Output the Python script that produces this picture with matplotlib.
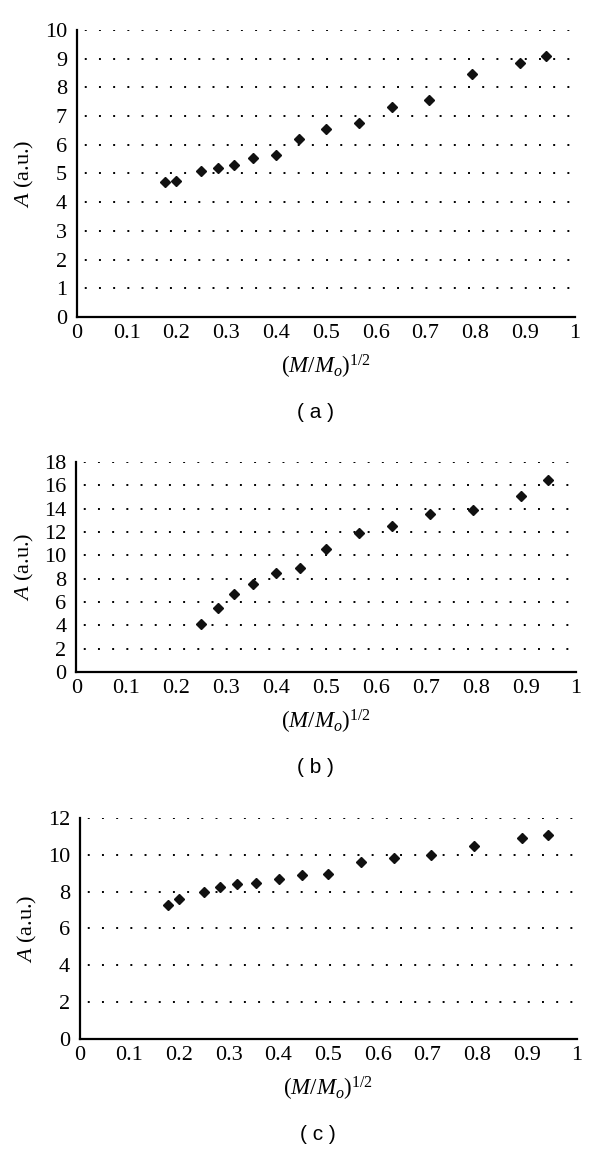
import matplotlib
matplotlib.use("Agg")
import matplotlib.pyplot as plt
import numpy as np

plt.rcParams["font.family"] = "Liberation Serif"
plt.rcParams["mathtext.fontset"] = "custom"
plt.rcParams["mathtext.rm"] = "Liberation Serif"
plt.rcParams["mathtext.it"] = "Liberation Serif:italic"
plt.rcParams["mathtext.bf"] = "Liberation Serif:bold"

# ---- data ----
x_all = [0.177, 0.2, 0.25, 0.283, 0.316, 0.354, 0.4, 0.447, 0.5,
         0.566, 0.632, 0.707, 0.794, 0.89, 0.943]
y_a = [4.7, 4.75, 5.1, 5.2, 5.3, 5.55, 5.65, 6.2, 6.55,
       6.75, 7.3, 7.55, 8.45, 8.85, 9.1]

x_b = [0.25, 0.283, 0.316, 0.354, 0.4, 0.447, 0.5,
       0.566, 0.632, 0.707, 0.794, 0.89, 0.943]
y_b = [4.1, 5.5, 6.7, 7.5, 8.5, 8.9, 10.5,
       11.9, 12.5, 13.5, 13.9, 15.1, 16.5]

y_c = [7.3, 7.6, 8.0, 8.25, 8.4, 8.45, 8.7, 8.9, 8.95,
       9.6, 9.85, 10.0, 10.5, 10.9, 11.1]

x_ticks = [0, 0.1, 0.2, 0.3, 0.4, 0.5, 0.6, 0.7, 0.8, 0.9, 1]
x_ticklabels = ["0", "0.1", "0.2", "0.3", "0.4", "0.5", "0.6", "0.7", "0.8", "0.9", "1"]

panels = [
    # (x, y, ymax, ystep, axes rect, letter)
    (x_all, y_a, 10, 1, [0.128, 0.7251, 0.83, 0.2489], "( a )"),
    (x_b, y_b, 18, 2, [0.127, 0.4172, 0.833, 0.1821], "( b )"),
    (x_all, y_c, 12, 2, [0.133, 0.0989, 0.828, 0.1917], "( c )"),
]

W, H = 600, 1153
fig = plt.figure(figsize=(W / 100, H / 100), dpi=100)
fig.patch.set_facecolor("white")

for xs, ys, ymax, ystep, rect, letter in panels:
    ax = fig.add_axes(rect)
    ax.plot(xs, ys, "D", color="#111111", ms=5, mec="#111111", zorder=3)
    ax.set_xlim(0, 1)
    ax.set_ylim(0, ymax)
    ax.set_xticks(x_ticks)
    ax.set_xticklabels(x_ticklabels)
    ax.set_yticks(np.arange(0, ymax + ystep / 2, ystep))
    ax.tick_params(length=0, labelsize=16, pad=7)
    ax.tick_params(axis="x", pad=5)
    for s in ("top", "right"):
        ax.spines[s].set_visible(False)
    for s in ("left", "bottom"):
        ax.spines[s].set_linewidth(1.6)
        ax.spines[s].set_color("black")
    ax.yaxis.grid(True, color="black", lw=1.4, linestyle=(-4, (1, 6.3)))
    ax.set_axisbelow(True)
    ax.set_ylabel(r"$A$ (a.u.)", fontsize=16, labelpad=6)
    ax.set_xlabel(r"$(M/M_o)^{1/2}$", fontsize=16.5, labelpad=7)

    # panel letter below the axis label
    bottom_px = (1 - rect[1]) * H
    fig.text(0.5 * (rect[0] + rect[0] + rect[2]) - 0.017, 1 - (bottom_px + 96) / H, letter,
             ha="center", va="center", fontsize=15, family="Liberation Sans")

fig.savefig("out.png", dpi=100, facecolor="white")
